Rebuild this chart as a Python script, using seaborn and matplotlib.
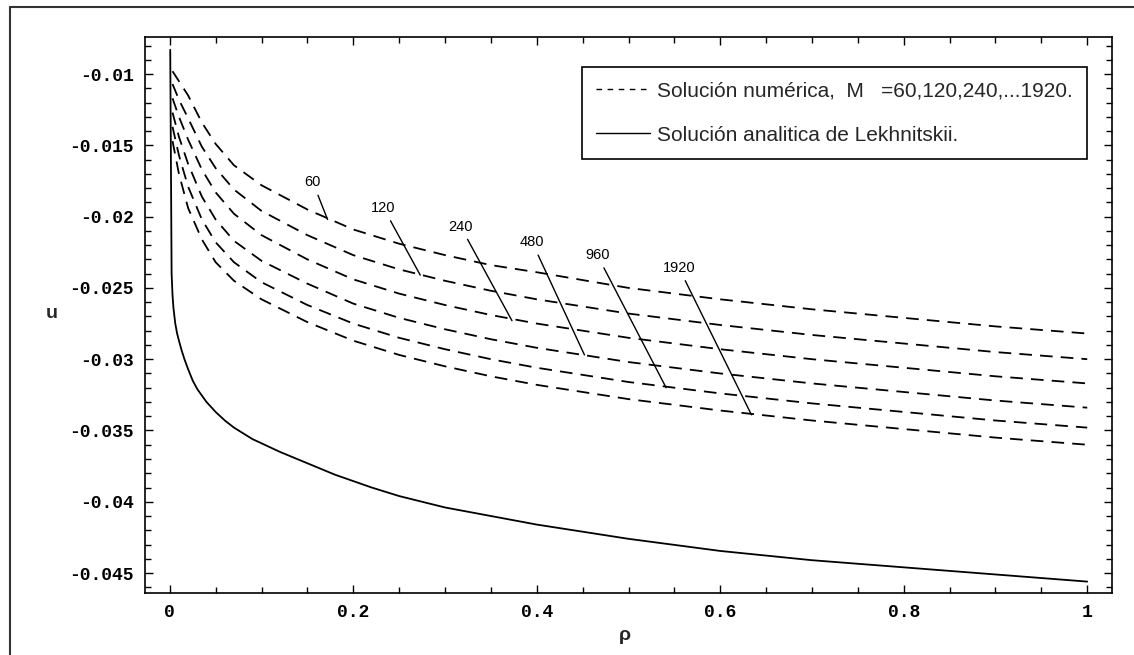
import numpy as np
import pandas as pd
import matplotlib
matplotlib.use("Agg")
import matplotlib.pyplot as plt
from matplotlib.lines import Line2D
import seaborn as sns

# ---------------- data ----------------
rho_num = [0.003, 0.01, 0.02, 0.035, 0.05, 0.07, 0.1, 0.15, 0.2, 0.25,
           0.3, 0.35, 0.4, 0.5, 0.6, 0.7, 0.8, 0.9, 1.0]
u_60 = [-0.0098, -0.0105, -0.0115, -0.0134, -0.0149, -0.0164, -0.0178, -0.0195, -0.0209, -0.0219,
        -0.0227, -0.0234, -0.0239, -0.0250, -0.0258, -0.0265, -0.0271, -0.0277, -0.0282]
u_120 = [-0.0107, -0.0118, -0.0131, -0.0151, -0.0166, -0.0181, -0.0196, -0.0213, -0.0227, -0.0237,
         -0.0245, -0.0252, -0.0258, -0.0268, -0.0276, -0.0283, -0.0289, -0.0295, -0.0300]
u_240 = [-0.0117, -0.0130, -0.0146, -0.0167, -0.0183, -0.0198, -0.0213, -0.0230, -0.0244, -0.0254,
         -0.0262, -0.0269, -0.0275, -0.0285, -0.0293, -0.0300, -0.0306, -0.0312, -0.0317]
u_480 = [-0.0127, -0.0144, -0.0163, -0.0186, -0.0202, -0.0217, -0.0231, -0.0247, -0.0261, -0.0271,
         -0.0279, -0.0286, -0.0292, -0.0302, -0.0310, -0.0317, -0.0323, -0.0329, -0.0334]
u_960 = [-0.0137, -0.0157, -0.0179, -0.0202, -0.0218, -0.0232, -0.0246, -0.0262, -0.0275, -0.0285,
         -0.0293, -0.0300, -0.0306, -0.0316, -0.0324, -0.0331, -0.0337, -0.0343, -0.0348]
u_1920 = [-0.0147, -0.0170, -0.0194, -0.0216, -0.0232, -0.0245, -0.0258, -0.0274, -0.0287, -0.0297,
          -0.0305, -0.0312, -0.0318, -0.0328, -0.0336, -0.0343, -0.0349, -0.0355, -0.0360]

rho_an = [0.0005, 0.002, 0.003, 0.004, 0.006, 0.008, 0.01, 0.013, 0.016, 0.02, 0.025, 0.03,
          0.04, 0.05, 0.06, 0.07, 0.08, 0.09, 0.1, 0.12, 0.15, 0.18, 0.22, 0.25, 0.3,
          0.35, 0.4, 0.5, 0.6, 0.7, 0.8, 0.9, 1.0]
u_an = [-0.0083, -0.0240, -0.0255, -0.0264, -0.0275, -0.0282, -0.0287, -0.0294, -0.0300,
        -0.0307, -0.0315, -0.0321, -0.0330, -0.0337, -0.0343, -0.0348, -0.0352, -0.0356,
        -0.0359, -0.0365, -0.0373, -0.0381, -0.0390, -0.0396, -0.0404, -0.0410, -0.0416,
        -0.0426, -0.04345, -0.0441, -0.0446, -0.0451, -0.0456]

m_labels = ["60", "120", "240", "480", "960", "1920"]
label_rho = [0.156, 0.233, 0.317, 0.395, 0.466, 0.555]
label_u = [-0.0176, -0.0194, -0.0207, -0.0218, -0.0227, -0.0236]
leader_rho = [0.172, 0.273, 0.373, 0.452, 0.541, 0.634]
leader_u = [-0.0202, -0.0241, -0.0273, -0.0297, -0.0320, -0.0339]

legend_labels = ["Solución numérica,  M   =60,120,240,...1920.",
                 "Solución analitica de Lekhnitskii."]
x_ticks = [0, 0.2, 0.4, 0.6, 0.8, 1]
x_ticklabels = ["0", "0.2", "0.4", "0.6", "0.8", "1"]
y_ticks = [-0.01, -0.015, -0.02, -0.025, -0.03, -0.035, -0.04, -0.045]
y_ticklabels = ["-0.01", "-0.015", "-0.02", "-0.025", "-0.03", "-0.035", "-0.04", "-0.045"]

# ---------------- figure ----------------
sns.set_style("ticks")
plt.rcParams["font.family"] = ["Liberation Sans", "DejaVu Sans"]

W, H = 1134, 655
fig = plt.figure(figsize=(W / 100, H / 100), dpi=100)
fig.patch.set_facecolor("white")
ax = fig.add_axes([145 / W, 1 - 593 / H, (1112 - 145) / W, (593 - 37) / H])
ax.set_facecolor("white")

series = [u_60, u_120, u_240, u_480, u_960, u_1920]
frames = []
for lab, vals in zip(m_labels, series):
    frames.append(pd.DataFrame({"rho": rho_num, "u": vals, "M": lab}))
df_num = pd.concat(frames, ignore_index=True)

dash = (7, 4.5)
sns.lineplot(data=df_num, x="rho", y="u", hue="M", style="M",
             palette=["black"] * 6, dashes=[dash] * 6, estimator=None,
             sort=False, linewidth=1.3, legend=False, ax=ax)
df_an = pd.DataFrame({"rho": rho_an, "u": u_an})
sns.lineplot(data=df_an, x="rho", y="u", color="black", linewidth=1.3,
             estimator=None, sort=False, ax=ax)

# labels with leader lines
for lab, lx, ly, px, py in zip(m_labels, label_rho, label_u, leader_rho, leader_u):
    ax.annotate(lab, xy=(px, py), xytext=(lx, ly), ha="center", va="center",
                fontsize=10.5, color="black",
                family=["Liberation Sans", "DejaVu Sans"],
                arrowprops=dict(arrowstyle="-", color="black", lw=1.0,
                                shrinkA=2, shrinkB=0))

ax.set_xlim(-0.027, 1.027)
ax.set_ylim(-0.0464, -0.0074)

mono = dict(family=["Liberation Mono", "DejaVu Sans Mono"], weight="bold", size=13)
ax.set_xticks(x_ticks)
ax.set_xticklabels(x_ticklabels, fontdict=mono)
ax.set_yticks(y_ticks)
ax.set_yticklabels(y_ticklabels, fontdict=mono)
ax.xaxis.set_minor_locator(matplotlib.ticker.MultipleLocator(0.05))
ax.yaxis.set_minor_locator(matplotlib.ticker.MultipleLocator(0.001))
ax.tick_params(which="both", direction="in", top=True, right=True, colors="black", width=1)
ax.tick_params(which="major", length=6)
ax.tick_params(which="minor", length=4)
ax.tick_params(axis="x", which="major", pad=8)
ax.tick_params(axis="y", which="major", pad=8)
for sp in ax.spines.values():
    sp.set_visible(True)
    sp.set_color("black")
    sp.set_linewidth(1.2)

ax.set_xlabel("ρ", fontsize=14, fontweight="bold", ha="center", va="center")
ax.xaxis.set_label_coords((625 - 145) / 967, -(635 - 593) / 556)
ax.set_ylabel("u", fontsize=14, fontweight="bold", rotation=0, ha="center", va="center")
ax.yaxis.set_label_coords((52 - 145) / 967, (593 - 313) / 556)

handles = [Line2D([], [], color="black", lw=1.0, linestyle=(0, (4, 4))),
           Line2D([], [], color="black", lw=1.0, linestyle="-")]
leg = ax.legend(handles, legend_labels, loc="upper right",
                bbox_to_anchor=((1087 - 145) / 967, (593 - 67) / 556),
                fontsize=15, frameon=True, fancybox=False, framealpha=1,
                edgecolor="black", handlelength=2.6, handletextpad=0.3,
                labelspacing=1.2, borderpad=0.7, borderaxespad=0)
leg.get_frame().set_linewidth(1.2)

# outer frame of the picture
fig.add_artist(Line2D([10 / W, 10 / W], [0, 1 - 7 / H], transform=fig.transFigure,
                      color="#333333", lw=1.5))
fig.add_artist(Line2D([10 / W, 1], [1 - 7 / H, 1 - 7 / H], transform=fig.transFigure,
                      color="#333333", lw=1.5))

fig.savefig("out.png", dpi=100, facecolor="white")
